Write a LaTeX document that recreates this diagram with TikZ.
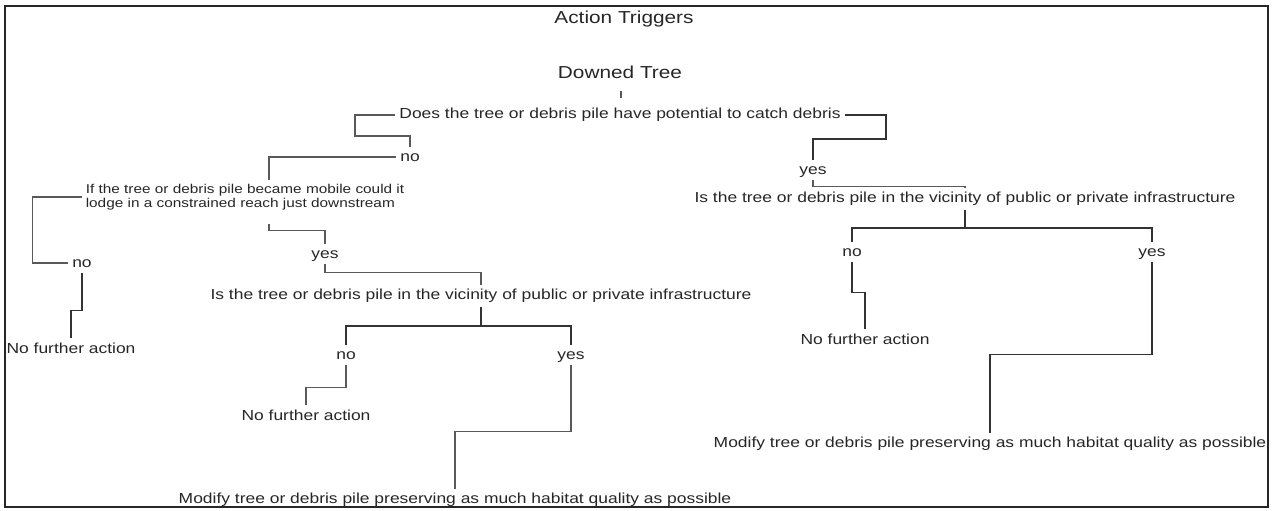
\documentclass[tikz,border=0pt]{standalone}
\usepackage{fontspec}
\setmainfont{Liberation Sans}[FakeStretch=1.2]
\usepackage{tikz}
\usetikzlibrary{calc}
\tikzstyle{link}=[draw=black!65, line width=.8pt]
\tikzstyle{forked}=[draw=black!80, line width=1pt]
\tikzstyle{query}=[inner sep=3pt, text=black!85, font=\fontsize{10.9}{13}\selectfont]
\tikzstyle{choice}=[query, text height=1.5ex, text depth=.25ex]
\tikzstyle{heading}=[inner sep=3pt, text=black!85, font=\fontsize{13}{15}\selectfont]
\newcommand{\splitq}[4]{
 \draw[forked] (#1.south) -- ++(0,-#4) coordinate (#1fork);
 \draw[forked] (#2.north) |- (#1fork) -| (#3.north);
}

\begin{document}
\begin{tikzpicture}[x=75pt,y=75pt]
 \useasboundingbox (0,0) rectangle (12.73,5.10);
 \draw[line width=1.3pt, black!85] (.05,.03) rectangle (12.68,5.04);
%
 \node[heading] (title) at (6.24,4.91) {Action Triggers};
 \node[heading] (tree) at (6.20,4.38) {Downed Tree};
 \node[query] (q1) at (6.20,3.95) {Does the tree or debris pile have potential to catch debris};
 \node[choice] (no1) at (4.10,3.53) {no};
 \node[choice] (yes1) at (8.13,3.40) {yes};
%
 \node[query, align=left, font=\fontsize{9.6}{10.5}\selectfont] (q2) at (2.45,3.13)
  {If the tree or debris pile became mobile could it\\lodge in a constrained reach just downstream};
 \node[choice] (no2) at (0.82,2.47) {no};
 \node[query] (end1) at (0.71,1.62) {No further action};
 \node[choice] (yes2) at (3.25,2.56) {yes};
 \node[query] (q3) at (4.81,2.14) {Is the tree or debris pile in the vicinity of public or private infrastructure};
 \node[choice] (no3) at (3.46,1.55) {no};
 \node[choice] (yes3) at (5.71,1.55) {yes};
 \node[query] (end2) at (3.06,0.95) {No further action};
 \node[query] (mod1) at (4.55,0.10) {Modify tree or debris pile preserving as much habitat quality as possible};
%
 \node[query] (q4) at (9.65,3.11) {Is the tree or debris pile in the vicinity of public or private infrastructure};
 \node[choice] (no4) at (8.52,2.58) {no};
 \node[choice] (yes4) at (11.52,2.58) {yes};
 \node[query] (end3) at (8.65,1.71) {No further action};
 \node[query] (mod2) at (9.90,0.66) {Modify tree or debris pile preserving as much habitat quality as possible};
%
 \draw[link] ($(tree.south)+(.01,-.08)$) -- ($(q1.north)+(.01,.06)$);
 \draw[link] (q1.west) -| (3.55,3.74) -| (no1.north);
 \draw[forked] (q1.east) -| (8.86,3.71) -| (yes1.north);
% left branch
 \draw[link] (no1.west) -| ($(q2.north)+(.24,0)$);
 \draw[link] (q2.west) -| ($(no2.west)+(-.36,0)$) -- (no2.west);
 \draw[forked] (no2.south) -- ++(0,-.37) -| (end1.north);
 \draw[link] ($(q2.south)+(.24,-.1)$) -- ++(0,-.06) -| (yes2.north);
 \draw[link] (yes2.south) -- ++(0,-.08) -| (q3.north);
 \splitq{q3}{no3}{yes3}{.19}
 \draw[link] (no3.south) -- ++(0,-.22) -| (end2.north);
 \draw[link] (yes3.south) -- ++(0,-.66) -| (mod1.north);
% right branch
 \draw[link] (yes1.south) -- ++(0,-.06) -| (q4.north);
 \splitq{q4}{no4}{yes4}{.18}
 \draw[forked] (no4.south) -- ++(0,-.3) -| (end3.north);
 \draw[forked] (yes4.south) -- ++(0,-.92) -| (mod2.north);
\end{tikzpicture}
\end{document}
